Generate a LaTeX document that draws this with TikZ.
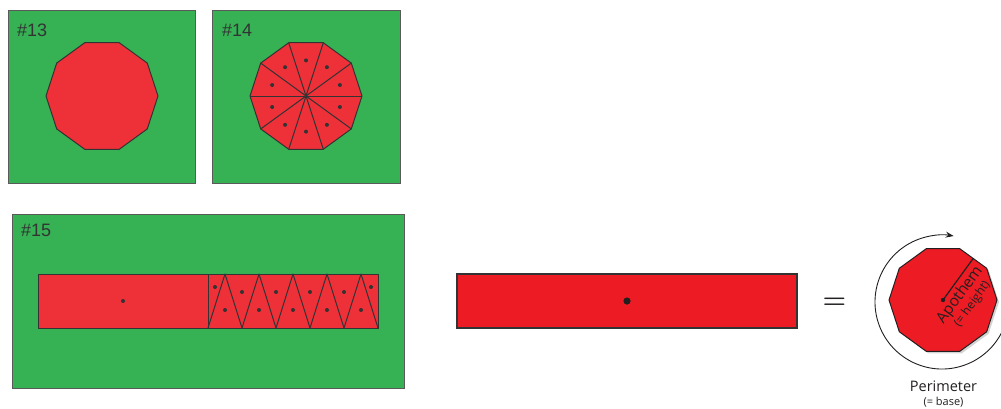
\documentclass[tikz,border=0pt]{standalone}
\usepackage{fontspec}
\newfontfamily\arialf{Liberation Sans}
\newfontfamily\humf{Open Sans}
\usetikzlibrary{arrows.meta,shadows,calc}
\definecolor{panelgreen}{HTML}{36B255}
\definecolor{panelred}{HTML}{EE3039}
\definecolor{brightred}{HTML}{ED1C24}
\definecolor{edgegray}{HTML}{333333}
\definecolor{framegray}{HTML}{5A5A5A}
\definecolor{inkblack}{HTML}{231F20}
\begin{document}
\begin{tikzpicture}[x=1pt,y=-1pt,
  panel/.style={fill=panelgreen,draw=framegray,line width=1pt},
  piece/.style={fill=panelred,draw=edgegray,line width=1pt,line join=round},
  cut/.style={draw=edgegray,line width=1pt,line join=round},
  dotmark/.style={fill=edgegray},
  lbl/.style={font=\arialf\fontsize{18}{18}\selectfont,text=edgegray,anchor=base west,inner sep=0pt},
  hum/.style={text=inkblack,inner sep=0pt},
]
\useasboundingbox (0,0) rectangle (1001,408);
\clip (0,0) rectangle (1001,408);

% ---------- #13 ----------
\draw[panel] (8,10) rectangle (195,183);
\node[lbl] (l13) at (17,36) {\#13};
\coordinate (c13) at (102,96);
\draw[piece] ($(c13)+(0:56)$) \foreach \k in {1,...,9}{ -- ($(c13)+(\k*36:56)$)} -- cycle;

% ---------- #14 ----------
\draw[panel] (212,10) rectangle (400,183);
\node[lbl] (l14) at (222,36) {\#14};
\coordinate (c14) at (306,96);
\draw[piece] ($(c14)+(0:56)$) \foreach \k in {1,...,9}{ -- ($(c14)+(\k*36:56)$)} -- cycle;
\foreach \k in {0,...,9}{
  \draw[cut] (c14) -- ($(c14)+(\k*36:56)$);
  \fill[dotmark] ($(c14)+(18+\k*36:35.6)$) circle[radius=2];
}

% ---------- #15 ----------
\draw[panel] (12,214) rectangle (404,388);
\node[lbl] (l15) at (21,236) {\#15};
\draw[piece] (38,274) rectangle (208,328);
\draw[piece] (208,274) rectangle (378,328);
\draw[cut] (208,328) -- (225,274) -- (242,328) -- (259,274) -- (276,328) -- (293,274)
  -- (310,328) -- (327,274) -- (344,328) -- (361,274) -- (378,328);
\fill[dotmark] (123,301) circle[radius=2];
\foreach \x in {225,259,293,327,361} \fill[dotmark] (\x,310) circle[radius=2];
\foreach \x in {242,276,310,344} \fill[dotmark] (\x,292) circle[radius=2];
\fill[dotmark] (215,287) circle[radius=2];
\fill[dotmark] (371,287) circle[radius=2];

% ---------- middle rectangle ----------
\draw[fill=brightred,draw=edgegray,line width=1.3pt] (457,274) rectangle (797,328);
\fill[inkblack] (627,301) circle[radius=3.6];

\node[font=\bfseries\fontsize{27}{27}\selectfont,text=inkblack,anchor=base,inner sep=0pt] (eq) at (834.5,308) {=};

% ---------- right decagon ----------
\coordinate (c) at (943,300);
\filldraw[fill=brightred,draw=inkblack,line width=1pt,line join=round,
  drop shadow={shadow xshift=2pt,shadow yshift=-2pt,opacity=0.35}]
  ($(c)+(0:54)$) \foreach \k in {1,...,9}{ -- ($(c)+(\k*36:54)$)} -- cycle;
\coordinate (apoend) at ($(c)+(-54:51.4)$);
\draw[inkblack,line width=1.2pt] (c) -- (apoend);
\fill[inkblack] (c) circle[radius=2.2];
\coordinate (cc) at (942,302);
\draw[inkblack,line width=0.9pt,-{Stealth[length=8pt,width=6pt]}]
  ($(cc)+(-20:67)$) arc[start angle=-20,end angle=280,radius=67];

\node[hum,rotate=54,align=center] (apo) at (965.5,299)
  {\humf\fontsize{15.5}{14}\selectfont Apothem\\[0.5pt]\humf\fontsize{12}{12}\selectfont (= height)};
\node[hum,font=\humf\fontsize{14.5}{15}\selectfont,anchor=base] (per) at (943.5,391) {Perimeter};
\node[hum,font=\humf\fontsize{11}{12}\selectfont,anchor=base] (bas) at (943.5,405) {(= base)};
\end{tikzpicture}
\end{document}
